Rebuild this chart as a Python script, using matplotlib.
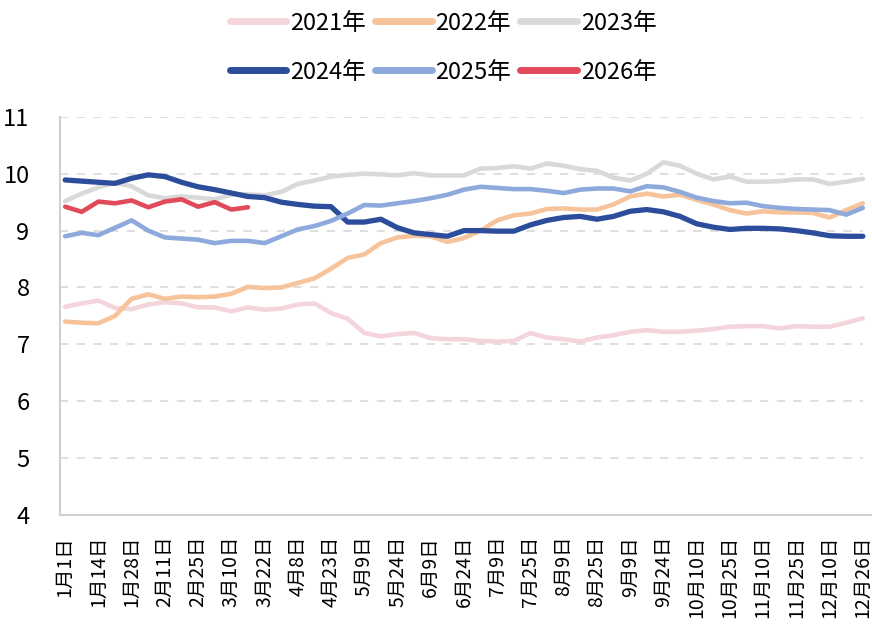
import numpy as np
import matplotlib
matplotlib.use("Agg")
import matplotlib.pyplot as plt

plt.rcParams['font.family'] = ['Noto Sans CJK SC', 'DejaVu Sans']

# x tick labels (every second data point)
tick_labels = ["1月1日", "1月14日", "1月28日", "2月11日", "2月25日", "3月10日", "3月22日",
               "4月8日", "4月23日", "5月9日", "5月24日", "6月9日", "6月24日", "7月9日",
               "7月25日", "8月9日", "8月25日", "9月9日", "9月24日", "10月10日", "10月25日",
               "11月10日", "11月25日", "12月10日", "12月26日"]

y2021 = [7.66, 7.72, 7.77, 7.64, 7.62, 7.70, 7.74, 7.72, 7.65, 7.65, 7.58, 7.65, 7.61,
         7.63, 7.70, 7.72, 7.55, 7.45, 7.20, 7.14, 7.18, 7.20, 7.11, 7.09, 7.09, 7.06,
         7.05, 7.06, 7.20, 7.12, 7.09, 7.05, 7.12, 7.16, 7.22, 7.25, 7.22, 7.22, 7.24,
         7.27, 7.31, 7.32, 7.32, 7.28, 7.32, 7.31, 7.31, 7.38, 7.46]
y2022 = [7.40, 7.38, 7.37, 7.50, 7.80, 7.88, 7.80, 7.84, 7.83, 7.84, 7.89, 8.01, 7.99,
         8.00, 8.08, 8.16, 8.33, 8.52, 8.58, 8.78, 8.88, 8.91, 8.90, 8.80, 8.87, 9.00,
         9.18, 9.27, 9.30, 9.38, 9.39, 9.37, 9.37, 9.46, 9.60, 9.65, 9.60, 9.63, 9.54,
         9.46, 9.36, 9.30, 9.34, 9.32, 9.32, 9.31, 9.23, 9.36, 9.48]
y2023 = [9.52, 9.65, 9.76, 9.84, 9.78, 9.62, 9.57, 9.60, 9.58, 9.55, 9.63, 9.64, 9.62,
         9.68, 9.82, 9.88, 9.95, 9.98, 10.00, 9.99, 9.97, 10.01, 9.97, 9.97, 9.97, 10.09,
         10.10, 10.13, 10.09, 10.18, 10.14, 10.08, 10.05, 9.93, 9.88, 10.00, 10.20, 10.14,
         10.00, 9.90, 9.95, 9.86, 9.86, 9.87, 9.90, 9.90, 9.82, 9.86, 9.91]
y2024 = [9.89, 9.87, 9.85, 9.83, 9.92, 9.98, 9.95, 9.85, 9.77, 9.72, 9.66, 9.60, 9.58,
         9.50, 9.46, 9.43, 9.42, 9.15, 9.15, 9.20, 9.05, 8.96, 8.93, 8.90, 9.00, 9.00,
         8.99, 8.99, 9.10, 9.18, 9.23, 9.25, 9.20, 9.25, 9.34, 9.37, 9.33, 9.25, 9.12,
         9.06, 9.02, 9.04, 9.04, 9.03, 9.00, 8.96, 8.91, 8.90, 8.90]
y2025 = [8.90, 8.96, 8.92, 9.05, 9.18, 9.00, 8.88, 8.86, 8.84, 8.78, 8.82, 8.82, 8.78,
         8.90, 9.02, 9.08, 9.17, 9.30, 9.45, 9.44, 9.48, 9.52, 9.57, 9.63, 9.72, 9.77,
         9.75, 9.73, 9.73, 9.70, 9.66, 9.72, 9.74, 9.74, 9.69, 9.78, 9.76, 9.68, 9.58,
         9.52, 9.48, 9.49, 9.43, 9.40, 9.38, 9.37, 9.36, 9.28, 9.40]
y2026 = [9.42, 9.33, 9.51, 9.48, 9.53, 9.41, 9.51, 9.55, 9.42, 9.50, 9.37, 9.41]

series = [("2021年", y2021, "#f5d5dc", 3.3),
          ("2022年", y2022, "#f6c39b", 3.3),
          ("2023年", y2023, "#d9d9d9", 3.3),
          ("2024年", y2024, "#2c4d9c", 3.8),
          ("2025年", y2025, "#8eaadc", 3.3),
          ("2026年", y2026, "#e04a5a", 3.3)]

fig = plt.figure(figsize=(8.72, 6.35), dpi=100)
ax = fig.add_axes([0.069, 0.189, 0.93, 0.627])

lines = {}
for name, vals, col, lw in series:
    xs = np.arange(len(vals))
    ln, = ax.plot(xs, vals, color=col, linewidth=lw, label=name, solid_capstyle="round")
    lines[name] = ln

ax.set_ylim(4, 11)
ax.set_xlim(-0.3, 48.5)
ax.set_yticks(range(4, 12))
ax.set_xticks(np.arange(0, 49, 2))
ax.set_xticklabels(tick_labels, rotation=90, fontsize=14)
ax.tick_params(axis="y", labelsize=17, length=0, pad=22)
ax.tick_params(axis="x", length=0, pad=15)

for v in range(5, 12):
    ax.axhline(v, xmin=0, xmax=0.99, color="#d9d9d9", linestyle=(0, (5, 5)), linewidth=1.2, zorder=0)

for s in ["top", "right"]:
    ax.spines[s].set_visible(False)
for s in ["left", "bottom"]:
    ax.spines[s].set_color("#d0d0d0")
    ax.spines[s].set_linewidth(1.5)

order = ["2021年", "2024年", "2022年", "2025年", "2023年", "2026年"]
leg = fig.legend([lines[n] for n in order], order, loc="upper center",
                 bbox_to_anchor=(0.508, 1.015), ncol=3, frameon=False, fontsize=17,
                 handlelength=2.4, handletextpad=0.15, columnspacing=0.4, labelspacing=1.1)
for h in leg.legend_handles:
    h.set_linewidth(5)

fig.savefig("out.png", dpi=100)
